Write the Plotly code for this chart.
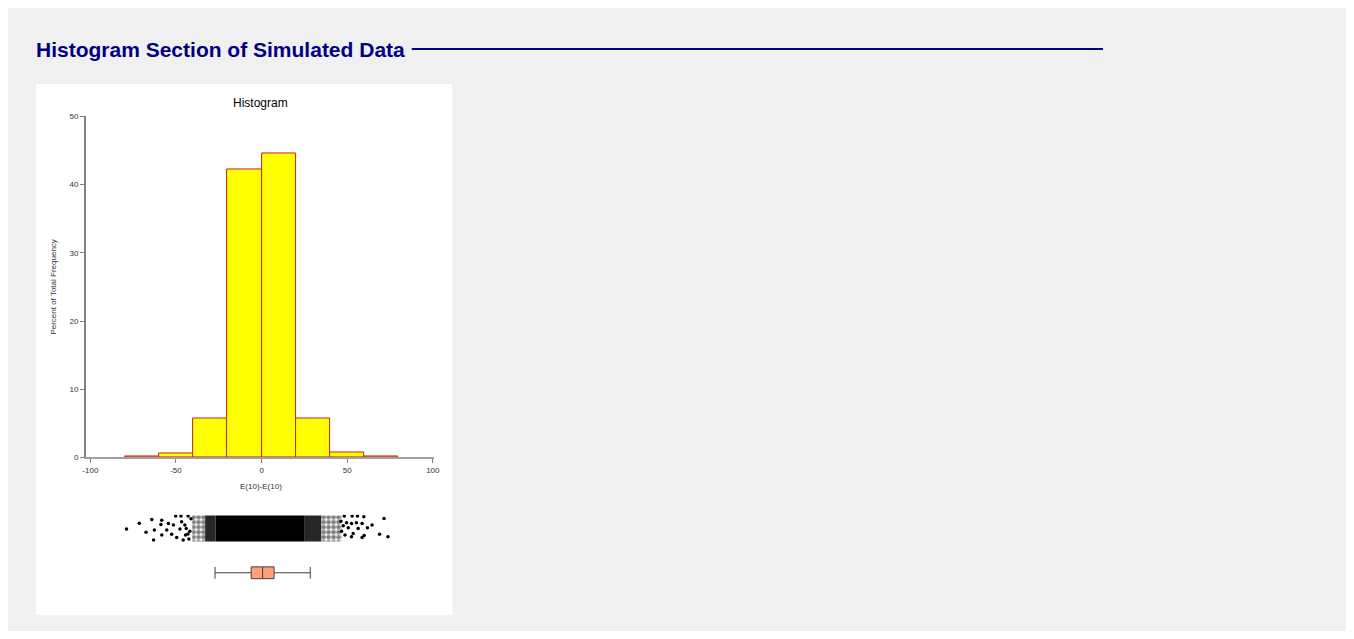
import plotly.graph_objects as go

# ---------------- data ----------------
bin_left = [-80, -60, -40, -20, 0, 20, 40, 60]
bin_width = 20
percent = [0.1, 0.6, 5.65, 42.2, 44.6, 5.7, 0.8, 0.1]

x_ticks = [-100, -50, 0, 50, 100]
y_ticks = [0, 10, 20, 30, 40, 50]

# dot plot: solid core band and speckled zones (data limits), outlying points
core_band = [-26.8, 25.2]
speck_inner_left = [-33.0, -26.8]
speck_outer_left = [-40.5, -33.0]
speck_inner_right = [25.2, 35.0]
speck_outer_right = [35.0, 46.7]
band_y = [0.03, 0.97]

out_x = [-78.9, -71.4, -67.5, -64.1, -62.6, -63.1, -58.3, -58.8, -54.4, -55.4,
         -58.3, -51.5, -50.2, -52.5, -49.6, -47.1, -46.7, -47.7, -44.8, -44.4,
         -42.9, -41.9, -45.8, -43.0, -41.2, -42.5, -44.0,
         48.3, 52.9, 56.0, 59.7, 71.5, 64.5, 58.7, 61.8, 55.4, 52.5,
         49.6, 50.6, 53.5, 56.4, 46.7, 48.7, 52.5, 58.7, 59.9, 68.9,
         73.8, 46.3, 47.7]
out_y = [0.475, 0.69, 0.36, 0.82, 0.44, 0.08, 0.80, 0.64, 0.68, 0.44,
         0.26, 0.62, 0.95, 0.29, 0.17, 0.95, 0.74, 0.475, 0.62, 0.26,
         0.95, 0.40, 0.08, 0.30, 0.85, 0.12, 0.50,
         0.95, 0.95, 0.95, 0.92, 0.86, 0.62, 0.68, 0.525, 0.71, 0.68,
         0.71, 0.525, 0.32, 0.50, 0.40, 0.26, 0.20, 0.17, 0.24, 0.29,
         0.20, 0.76, 0.60]

# box plot statistics
box_q1 = -6.1
box_median = 0.6
box_q3 = 7.3
box_low = -27.2
box_high = 28.4

# ---------------- figure ----------------
PAGE_OFF = 8            # default body margin of the html page
W, H = 1354 - 2 * PAGE_OFF, 639 - 2 * PAGE_OFF
FONT = "Liberation Sans, Arial, sans-serif"


def px(x):
    return (x - PAGE_OFF) / W


def py(y):
    return 1 - (y - PAGE_OFF) / H


fig = go.Figure()

centers = [b + bin_width / 2 for b in bin_left]
fig.add_trace(go.Bar(
    x=centers, y=percent, width=[bin_width] * len(percent),
    marker=dict(color="#FFFF00", line=dict(color="#C8202A", width=1)),
    xaxis="x", yaxis="y", showlegend=False, hoverinfo="skip"))


def band(lims, **kw):
    a, b = lims
    return go.Scatter(
        x=[a, b, b, a, a], y=[band_y[0], band_y[0], band_y[1], band_y[1], band_y[0]],
        mode="lines", line=dict(width=0), fill="toself",
        xaxis="x2", yaxis="y2", showlegend=False, hoverinfo="skip", **kw)


fig.add_trace(band(core_band, fillcolor="black"))
for lims in [speck_inner_left, speck_inner_right]:
    fig.add_trace(band(lims, fillcolor="#262626"))
for lims in [speck_outer_left, speck_outer_right]:
    fig.add_trace(band(lims, fillcolor="rgba(0,0,0,0)",
                       fillpattern=dict(shape=".", size=5, solidity=0.7,
                                        fgcolor="black", bgcolor="white")))

fig.add_trace(go.Scatter(
    x=out_x, y=out_y, mode="markers",
    marker=dict(color="black", size=3.5),
    xaxis="x2", yaxis="y2", showlegend=False, hoverinfo="skip"))

fig.add_trace(go.Box(
    y=[0], q1=[box_q1], median=[box_median], q3=[box_q3],
    lowerfence=[box_low], upperfence=[box_high],
    orientation="h", boxpoints=False, whiskerwidth=1, width=1.0,
    fillcolor="#FFA07A", line=dict(color="#404040", width=1),
    xaxis="x3", yaxis="y3", showlegend=False, hoverinfo="skip"))

xdom = [px(82.7), px(433)]
xrange = [-102.5, 100.4]

fig.update_layout(
    width=W, height=H,
    margin=dict(l=0, r=0, t=0, b=0),
    paper_bgcolor="#F0F0F0", plot_bgcolor="rgba(0,0,0,0)",
    bargap=0,
    font=dict(family=FONT, color="#222"),
    xaxis=dict(domain=xdom, range=xrange, anchor="y",
               tickvals=x_ticks, ticktext=[str(v) for v in x_ticks],
               ticks="outside", ticklen=4, tickcolor="#808080",
               showline=True, linecolor="#A0A0A0", linewidth=1.5,
               showgrid=False, zeroline=False,
               tickfont=dict(size=8, color="#333")),
    yaxis=dict(domain=[py(460), py(114)], range=[0, 50], anchor="x",
               tickvals=y_ticks, ticks="outside", ticklen=4, tickcolor="#808080",
               showline=True, linecolor="#808080", linewidth=2,
               showgrid=False, zeroline=False,
               tickfont=dict(size=8, color="#333")),
    xaxis2=dict(domain=xdom, range=xrange, anchor="y2", visible=False),
    yaxis2=dict(domain=[py(546), py(518)], range=[0, 1], anchor="x2", visible=False),
    xaxis3=dict(domain=xdom, range=xrange, anchor="y3", visible=False),
    yaxis3=dict(domain=[py(589), py(565)], range=[-1, 1], anchor="x3", visible=False),
    shapes=[
        dict(type="rect", xref="paper", yref="paper", x0=px(32), x1=px(452),
             y0=py(620), y1=py(81), fillcolor="white", line=dict(width=0), layer="below"),
        dict(type="line", xref="paper", yref="paper", x0=px(411), x1=px(1108),
             y0=py(45.5), y1=py(45.5), line=dict(color="#000080", width=2)),
    ],
    annotations=[
        dict(text="<b>Histogram Section of Simulated Data</b>", xref="paper", yref="paper",
             x=px(30), y=py(46), xanchor="left", yanchor="middle", showarrow=False,
             font=dict(size=21, color="#000080", family=FONT)),
        dict(text="Histogram", xref="paper", yref="paper", x=px(259), y=py(100),
             xanchor="center", yanchor="middle", showarrow=False,
             font=dict(size=12, color="black", family=FONT)),
        dict(text="E(10)-E(10)", xref="paper", yref="paper", x=px(259), y=py(489),
             xanchor="center", yanchor="middle", showarrow=False,
             font=dict(size=8, color="#333", family=FONT)),
        dict(text="Percent of Total Frequency", xref="paper", yref="paper",
             x=px(50), y=py(287), xanchor="center", yanchor="middle", textangle=-90,
             showarrow=False, font=dict(size=8, color="#333", family=FONT)),
    ],
)

fig.write_html("out.html")
